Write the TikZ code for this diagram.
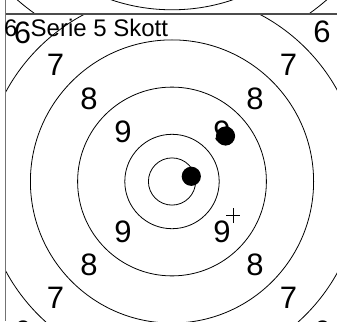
\documentclass[tikz,border=0pt]{standalone}
\usepackage{fontspec}
\setmainfont{Liberation Sans}
\usepackage{tikz}
\tikzset{
  ring line/.style={
    draw=black, line width=0.8pt
  },
  ring label/.style={
    inner sep=0pt, font=\fontsize{31}{31}\selectfont
  },
  shot hole/.style={
    fill=black, draw=none
  },
  shot cross/.style={
    draw=black, line width=0.7pt
  },
  frame line/.style={
    draw=black!70, line width=1.1pt
  },
  title text/.style={
    inner sep=0pt, anchor=base west, font=\fontsize{24}{24}\selectfont
  }
}

\begin{document}
\begin{tikzpicture}[x=1pt, y=-1pt]
  \useasboundingbox (0,0) rectangle (337,321);
  \coordinate (prev) at (172,-179);
  \coordinate (ctr) at (172,181.5);

  % bottom of the previous target
  \begin{scope}
    \clip (5,0) rectangle (337,14);
    \draw [ring line] (prev) circle [radius=188.8pt];
    \draw [ring line] (prev) circle [radius=236.5pt];
  \end{scope}

  % target of this series
  \begin{scope}
    \clip (5,14) rectangle (337,321);
    \draw [ring line] (ctr) circle [radius=23.6pt];
    \draw [ring line] (ctr) circle [radius=47.2pt];
    \draw [ring line] (ctr) circle [radius=94.4pt];
    \draw [ring line] (ctr) circle [radius=141.6pt];
    \draw [ring line] (ctr) circle [radius=188.8pt];
    \draw [ring line] (ctr) circle [radius=236pt];

    \node (r9a) [ring label] at (123,132) {9};
    \node (r9b) [ring label] at (222,132) {9};
    \node (r9c) [ring label] at (123,232) {9};
    \node (r9d) [ring label] at (222,232) {9};
    \node (r8a) [ring label] at (89,98.5) {8};
    \node (r8b) [ring label] at (255,98.5) {8};
    \node (r8c) [ring label] at (89,264.5) {8};
    \node (r8d) [ring label] at (255,264.5) {8};
    \node (r7a) [ring label] at (55.5,65) {7};
    \node (r7b) [ring label] at (288.5,65) {7};
    \node (r7c) [ring label] at (55.5,298) {7};
    \node (r7d) [ring label] at (288.5,298) {7};
    \node (r6a) [ring label] at (22.5,33) {6};
    \node (r6b) [ring label] at (322,32) {6};
    \node (r6c) [ring label] at (22.5,332) {6};
    \node (r6d) [ring label] at (322,332) {6};
  \end{scope}

  % hits
  \fill [shot hole] (191.3,176.3) circle [radius=9.6pt];
  \fill [shot hole] (225.5,136) circle [radius=9.6pt];
  \coordinate (miss) at (233,215.5);
  \draw [shot cross] ([xshift=-7pt]miss) -- ([xshift=7pt]miss);
  \draw [shot cross] ([yshift=-7.5pt]miss) -- ([yshift=7.5pt]miss);

  % panel border and heading
  \coordinate (topL) at (5,14);
  \coordinate (topR) at (337,14);
  \coordinate (edgeT) at (5,0);
  \coordinate (edgeB) at (5,321);
  \draw [frame line] (topL) -- (topR);
  \draw [draw=black!55, line width=1pt] (edgeT) -- (edgeB);
  \node (num) [title text] at (4,36.7) {6};
  \node (head) [title text] at (30.5,36.7) {Serie 5 Skott};
\end{tikzpicture}
\end{document}
